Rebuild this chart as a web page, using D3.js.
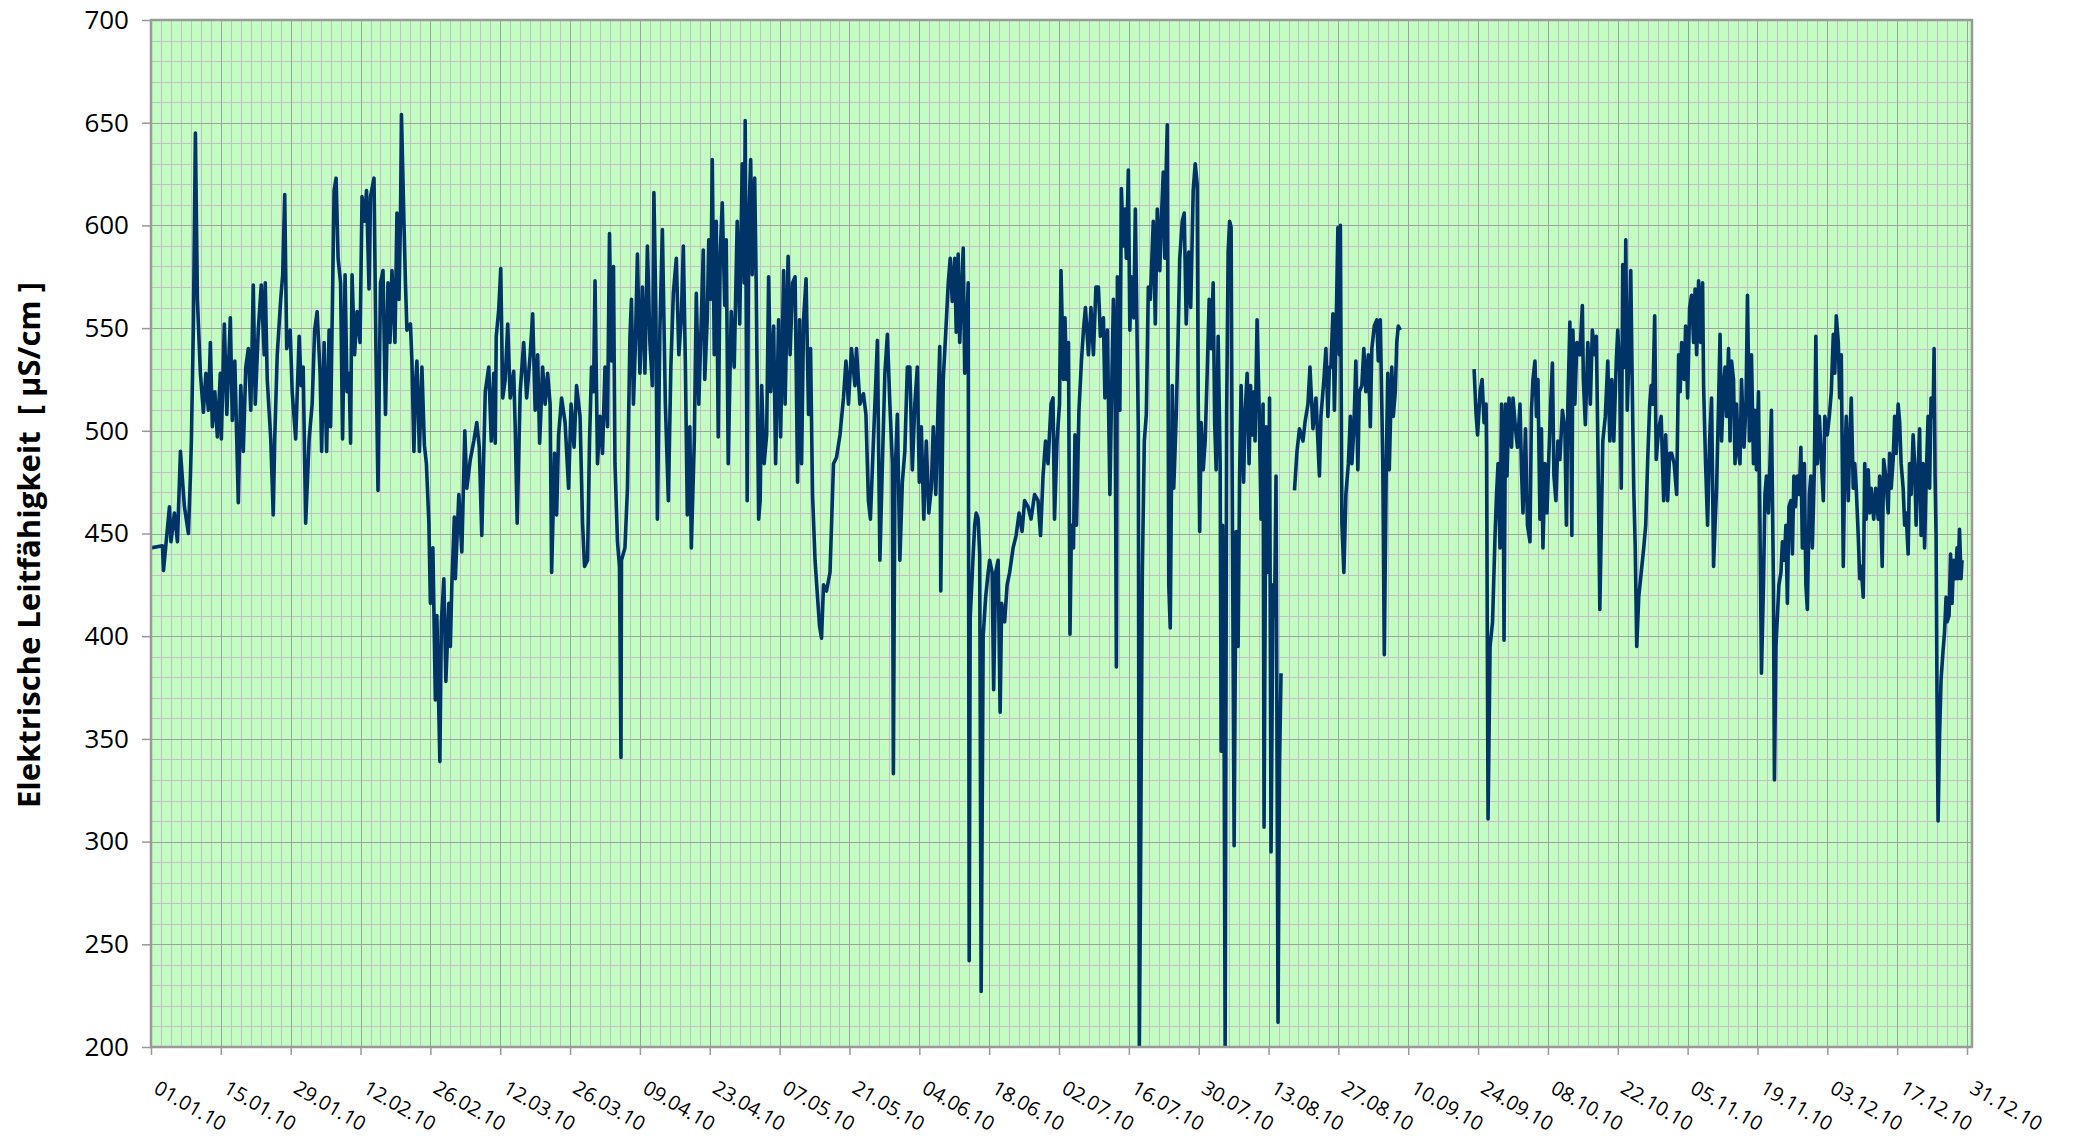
<!DOCTYPE html>
<html>
<head>
<meta charset="utf-8">
<script src="https://cdn.jsdelivr.net/npm/d3@7"></script>
<style>
body{margin:0;background:#fff;}
text{font-family:"Open Sans",sans-serif;fill:#000;}
</style>
</head>
<body>
<div id="chart"></div>
<script>
// x tick labels (every 14 days) and y ticks
const xTickLabels=["01.01.10","15.01.10","29.01.10","12.02.10","26.02.10","12.03.10","26.03.10","09.04.10","23.04.10","07.05.10","21.05.10","04.06.10","18.06.10","02.07.10","16.07.10","30.07.10","13.08.10","27.08.10","10.09.10","24.09.10","08.10.10","22.10.10","05.11.10","19.11.10","03.12.10","17.12.10","31.12.10"];
const yTicks=[200,250,300,350,400,450,500,550,600,650,700];
const yTitle="Elektrische Leitfähigkeit  [ µS/cm ]";

// readings: [days since 01.01.2010, conductivity µS/cm]
const measJanFeb=[[0,443],[2.3,444],[2.5,432],[3.7,463],[4.0,446],[4.7,460],[5.3,446],[5.9,490],[6.7,463],[7.5,450],[7.9,478],[8.1,496],[8.5,552],[8.9,645],[9.3,564],[9.9,528],[10.5,509],[11.0,528],[11.5,510],[11.9,543],[12.3,502],[12.8,519],[13.3,497],[13.9,528],[14.1,496],[14.7,552],[15.2,508],[15.9,555],[16.3,505],[16.8,534],[17.5,465],[18.0,522],[18.5,490],[19.0,531],[19.5,540],[20.0,510],[20.5,571],[20.9,513],[21.5,549],[22.1,571],[22.7,537],[22.9,572],[23.3,525],[24.0,496],[24.5,459],[24.8,496],[25.3,537],[26.0,564],[26.4,576],[26.8,615],[27.2,540],[27.9,549],[28.3,519],[29.0,496],[29.7,546],[30.1,522],[30.5,531],[31.0,455],[31.7,496],[32.3,513],[32.8,549],[33.3,558],[33.9,528],[34.2,490],[34.7,543],[35.2,490],[35.7,549],[36.0,502],[36.7,617],[37.1,623],[37.5,584],[38.0,572],[38.4,496],[38.9,576],[39.3,519],[39.7,528],[40.0,494],[40.3,576],[40.8,537],[41.3,558],[41.9,543],[42.3,614],[42.8,602],[43.2,617],[43.7,569],[44.0,614],[44.7,623],[45.1,537],[45.5,471],[46.0,572],[46.5,578],[47.0,508],[47.5,572],[47.9,543],[48.3,578],[48.9,543],[49.3,606],[49.7,564],[50.0,602],[50.2,654],[50.7,602],[51.0,572],[51.3,549],[52.0,552],[52.3,534],[52.7,490],[53.0,522],[53.3,534],[53.8,490],[54.3,531],[54.8,493],[55.2,484],[55.7,455],[56.0,416],[56.5,443],[57.0,369],[57.3,410],[57.9,339],[58.2,407],[58.7,428],[59.1,378],[59.7,416],[60.0,395],[60.3,425],[60.8,458]];
const measMarApr=[[61.0,428],[61.7,469],[62.3,441],[62.9,500],[63.3,472],[64.0,486],[64.7,495],[65.3,504],[65.8,492],[66.3,449],[67.0,519],[67.7,531],[68.2,495],[68.7,528],[69.0,494],[69.2,546],[69.7,559],[70.1,579],[70.5,516],[71.0,525],[71.5,552],[72.0,516],[72.7,529],[73.0,502],[73.4,455],[74.0,519],[74.7,543],[75.3,516],[76.0,537],[76.5,557],[77.0,510],[77.5,537],[77.9,494],[78.5,531],[79.0,513],[79.5,528],[80.0,513],[80.3,431],[80.9,489],[81.3,459],[81.7,498],[82.3,516],[83.0,504],[83.7,472],[84.2,513],[84.8,492],[85.3,522],[86.0,507],[86.5,455],[86.9,434],[87.5,437],[87.9,495],[88.3,531],[88.7,519],[89.0,573],[89.5,484],[90.0,507],[90.5,489],[91.0,531],[91.5,502],[91.9,596],[92.3,534],[92.7,580],[93.0,484],[93.5,446],[93.9,434],[94.2,341],[94.3,437],[95.0,443],[95.5,472],[96.0,546],[96.3,564],[96.7,513],[97.1,543],[97.5,586],[98.0,528],[98.5,570],[99.0,528],[99.5,590],[100.0,543],[100.5,522],[100.8,616],[101.2,558],[101.5,457],[102.0,549],[102.5,598],[103.1,513],[103.7,466],[104.2,531],[104.7,567],[105.3,584],[105.8,537],[106.3,555],[106.7,590],[107.1,534],[107.5,459],[108.0,502],[108.3,443],[108.9,495],[109.3,567],[109.8,513],[110.2,546],[110.7,588],[111.0,525],[111.5,555],[111.8,593],[112.2,564],[112.5,632],[112.9,537],[113.3,602],[113.7,497],[114.1,587],[114.5,611],[115.0,561],[115.3,593],[115.7,484],[116.3,558],[116.9,531],[117.5,602],[118.0,552],[118.5,630],[118.9,572],[119.1,651],[119.5,466],[119.8,602],[120.2,632],[120.5,576],[121.0,623],[121.3,572],[121.8,457]];
const measMayJun=[[122.1,466],[122.4,522],[122.9,484],[123.4,498],[123.8,575],[124.2,519],[124.8,551],[125.2,484],[125.8,554],[126.2,497],[126.8,578],[127.1,513],[127.7,585],[128.1,537],[128.6,572],[129.1,575],[129.6,475],[130.0,554],[130.4,484],[130.8,554],[131.3,574],[131.8,508],[132.2,540],[132.6,469],[133.1,437],[133.6,419],[134.0,405],[134.4,399],[134.8,425],[135.4,422],[136.1,431],[136.8,484],[137.4,487],[138.1,498],[138.8,516],[139.3,534],[139.8,513],[140.4,540],[141.1,522],[141.4,540],[142.1,513],[142.8,518],[143.3,508],[143.8,466],[144.2,457],[144.8,495],[145.2,519],[145.6,544],[146.1,437],[146.6,484],[147.1,528],[147.6,547],[148.1,513],[148.6,484],[148.8,333],[149.1,475],[149.6,508],[150.1,437],[150.6,475],[151.1,490],[151.6,531],[152.1,531],[152.6,481],[153.1,513],[153.6,531],[154.0,475],[154.4,502],[154.9,457],[155.4,495],[155.9,460],[156.4,472],[156.8,502],[157.3,469],[157.8,516],[158.1,541],[158.3,422],[158.8,525],[159.3,548],[159.8,572],[160.2,584],[160.6,563],[161.1,584],[161.4,548],[161.8,586],[162.1,543],[162.4,563],[162.8,589],[163.1,528],[163.4,543],[163.8,572],[164.0,242],[164.2,409],[164.8,440],[165.1,454],[165.4,460],[165.8,457],[166.1,440],[166.4,227],[166.8,400],[167.3,419],[167.8,431],[168.1,437],[168.6,431],[168.9,374],[169.3,431],[169.8,437],[170.2,363],[170.5,416],[171.1,407],[171.6,425],[172.1,431],[172.8,443],[173.4,449],[174.0,460],[174.6,451],[175.1,466],[175.8,463],[176.4,457],[177.1,469],[177.8,466],[178.3,449],[178.8,478],[179.3,495],[179.8,484],[180.4,513],[180.8,516],[181.1,457],[181.6,495],[182.1,513],[182.4,578],[182.9,525]];
const measJulAug=[[183.2,555],[183.5,525],[183.9,543],[184.2,401],[184.5,454],[184.9,443],[185.2,498],[185.5,454],[186.0,510],[186.5,534],[186.9,549],[187.3,560],[187.9,537],[188.4,560],[188.9,537],[189.4,570],[189.9,570],[190.3,546],[190.9,555],[191.2,516],[191.7,549],[192.2,469],[192.5,513],[192.9,564],[193.2,543],[193.5,385],[193.7,575],[194.2,510],[194.5,618],[194.9,590],[195.2,608],[195.5,584],[195.9,627],[196.2,549],[196.5,575],[197.0,555],[197.3,608],[197.7,537],[197.9,500],[198.1,200],[198.3,266],[198.7,431],[199.1,495],[199.5,508],[199.9,570],[200.3,564],[200.9,602],[201.3,552],[201.7,608],[202.2,578],[202.5,602],[202.9,626],[203.2,584],[203.5,629],[203.7,649],[204.0,425],[204.3,404],[204.7,522],[205.0,472],[205.5,508],[205.9,549],[206.2,584],[206.7,602],[207.1,606],[207.5,552],[208.0,587],[208.4,560],[208.9,617],[209.3,630],[209.7,620],[209.9,516],[210.2,451],[210.5,504],[210.9,481],[211.3,495],[211.7,528],[212.1,564],[212.5,540],[212.9,572],[213.2,504],[213.5,481],[213.9,546],[214.3,484],[214.5,344],[214.8,454],[215.1,348],[215.3,200],[215.6,508],[215.9,587],[216.2,602],[216.5,599],[216.7,484],[217.1,298],[217.5,451],[217.9,395],[218.2,478],[218.5,522],[219.0,475],[219.3,508],[219.7,528],[220.1,484],[220.4,522],[220.7,498],[221.1,519],[221.3,495],[221.7,554],[222.1,513],[222.5,457],[222.9,513],[223.1,307],[223.5,502],[223.9,431],[224.2,516],[224.5,295],[224.9,425],[225.2,410],[225.5,478],[225.9,212],[226.2,337],[226.5,382]];
const measAugSep=[[229.2,471],[229.7,490],[230.2,501],[230.9,495],[231.3,504],[231.9,513],[232.3,531],[232.9,501],[233.5,516],[234.2,478],[234.5,507],[235.1,525],[235.5,540],[235.9,507],[236.2,531],[236.5,531],[236.9,557],[237.2,510],[237.5,543],[237.9,599],[238.2,537],[238.4,600],[238.7,455],[239.1,431],[239.5,469],[240.0,484],[240.4,507],[240.7,484],[241.1,501],[241.5,534],[241.9,481],[242.2,519],[242.7,522],[243.1,540],[243.5,519],[244.0,537],[244.4,502],[244.7,540],[245.2,551],[245.7,554],[246.0,534],[246.4,554],[246.7,513],[246.9,484],[247.2,391],[247.6,484],[247.9,528],[248.2,481],[248.7,531],[249.0,507],[249.4,519],[249.7,543],[250.0,551],[250.4,549]];
const measSepOct=[[265.2,530],[265.6,508],[265.9,498],[266.4,519],[266.8,525],[267.2,504],[267.6,513],[267.7,490],[268.0,311],[268.4,395],[268.9,407],[269.4,449],[269.7,469],[270.0,484],[270.4,443],[270.7,513],[271.0,495],[271.2,398],[271.5,513],[271.8,478],[272.2,516],[272.7,492],[273.0,516],[273.5,501],[273.9,492],[274.4,513],[274.7,481],[275.0,460],[275.5,501],[275.9,454],[276.4,446],[276.7,510],[277.0,525],[277.4,534],[277.7,507],[278.0,525],[278.4,457],[278.7,501],[279.0,443],[279.4,484],[279.8,460],[280.2,489],[280.6,516],[280.9,533],[281.2,478],[281.6,466],[282.0,495],[282.4,486],[282.9,510],[283.4,501],[283.7,454],[284.0,513],[284.4,553],[284.8,449],[285.0,549],[285.4,513],[285.8,543],[286.4,537],[286.9,561],[287.1,525],[287.5,503],[288.0,543],[288.5,513],[288.9,549],[289.4,537],[289.7,546],[290.0,495],[290.4,413],[290.7,454],[291.0,495],[291.5,507],[292.0,534],[292.4,495],[292.8,525],[293.2,495],[293.7,534],[294.0,549],[294.4,528],[294.7,472],[295.0,581],[295.4,531],[295.6,593],[295.9,510],[296.2,534],[296.6,578],[296.9,522],[297.2,472],[297.5,443],[297.8,395],[298.2,419],[298.7,431],[299.2,443],[299.6,454],[300.0,486],[300.4,513],[300.7,522],[301.0,513],[301.4,556],[301.7,486],[302.2,501],[302.7,507],[303.2,466],[303.6,498],[304.0,466],[304.4,489]];
const measNovDec=[[304.8,489],[305.3,484],[305.8,469],[306.2,537],[306.5,519],[306.8,543],[307.3,525],[307.6,551],[308.0,516],[308.4,560],[308.8,566],[309.2,543],[309.5,569],[309.8,537],[310.2,573],[310.6,543],[311.0,572],[311.2,522],[311.6,484],[312.0,454],[312.4,495],[312.8,516],[313.2,434],[313.5,454],[313.8,472],[314.2,513],[314.5,547],[314.8,495],[315.2,522],[315.5,531],[315.8,507],[316.2,540],[316.5,495],[316.8,534],[317.2,525],[317.5,484],[317.8,513],[318.2,489],[318.5,484],[318.8,525],[319.3,492],[319.7,513],[320.0,566],[320.4,495],[320.8,537],[321.2,484],[321.5,510],[321.8,481],[322.2,519],[322.5,454],[322.8,382],[323.2,425],[323.5,469],[323.8,478],[324.2,460],[324.5,484],[324.8,510],[325.2,425],[325.4,330],[325.7,395],[326.0,410],[326.3,425],[326.7,431],[327.0,446],[327.4,437],[327.7,454],[328.0,416],[328.3,463],[328.7,466],[329.0,440],[329.3,478],[329.6,463],[330.0,478],[330.4,469],[330.7,492],[331.0,443],[331.4,484],[331.7,425],[332.0,413],[332.4,469],[332.7,478],[333.0,443],[333.4,481],[333.7,546],[334.0,484],[334.4,507],[334.8,486],[335.2,466],[335.5,507],[336.0,498],[336.4,507],[336.8,519],[337.2,547],[337.5,528],[337.8,556],[338.2,543],[338.5,516],[338.8,537],[339.2,434],[339.5,484],[339.8,507],[340.2,466],[340.5,495],[340.8,516],[341.2,472],[341.5,484],[341.8,472],[342.2,449],[342.5,428],[342.8,434],[343.2,419],[343.5,484],[343.8,457],[344.2,481],[344.5,460],[344.8,472],[345.3,457],[345.7,472],[346.2,457],[346.5,478],[347.0,434],[347.3,486],[347.7,478],[348.2,460],[348.5,489],[348.8,472],[349.2,486],[349.5,507],[349.8,489],[350.2,513],[350.5,504],[350.8,484],[351.2,472],[351.5,454],[351.8,460],[352.2,440],[352.5,484],[352.8,469],[353.2,498],[353.5,484],[353.8,454],[354.2,481],[354.5,501],[354.8,449],[355.2,484],[355.5,443],[355.8,475],[356.2,507],[356.5,472],[356.8,516],[357.2,507],[357.4,540],[357.6,478],[357.8,449],[358.0,367],[358.2,310],[358.5,352],[358.8,379],[359.2,393],[359.5,402],[359.8,419],[360.0,407],[360.4,410],[360.7,440],[361.0,416],[361.3,437],[361.7,428],[362.0,443],[362.2,428],[362.5,452],[362.8,428],[363.0,437]];

// data gaps split the line in three pieces
const segments=[measJanFeb.concat(measMarApr,measMayJun,measJulAug),measAugSep,measSepOct.concat(measNovDec)];

const W=2076,H=1138;
const plotL=151,plotR=1972,plotT=20,plotB=1047;
const t0=Date.UTC(2010,0,1);
const DAY=864e5;
const toDate=d=>new Date(t0+d*DAY);

const xScale=d3.scaleUtc().domain([new Date(t0),new Date(Date.UTC(2011,0,1))]).range([plotL,plotR]);
const yScale=d3.scaleLinear().domain([200,700]).range([plotB,plotT]);
const px=v=>Math.round(v)+0.5;

const svg=d3.select("#chart").append("svg").attr("width",W).attr("height",H);

svg.append("defs").append("clipPath").attr("id","plot-clip")
   .append("rect").attr("x",plotL).attr("y",plotT).attr("width",plotR-plotL).attr("height",plotB-plotT);

svg.append("rect")
   .attr("x",plotL).attr("y",plotT)
   .attr("width",plotR-plotL).attr("height",plotB-plotT)
   .attr("fill","#c2fec2");

const grid=svg.append("g").attr("shape-rendering","crispEdges");
// minor grid: every 2 days, every 10 µS/cm
grid.selectAll("line.vmin").data(d3.range(2,365,2)).enter().append("line")
    .attr("x1",d=>px(xScale(toDate(d)))).attr("x2",d=>px(xScale(toDate(d))))
    .attr("y1",plotT).attr("y2",plotB)
    .attr("stroke","#c9bcc9").attr("stroke-width",1);
grid.selectAll("line.hmin").data(d3.range(210,700,10)).enter().append("line")
    .attr("x1",plotL).attr("x2",plotR)
    .attr("y1",d=>px(yScale(d))).attr("y2",d=>px(yScale(d)))
    .attr("stroke","#c9bcc9").attr("stroke-width",1);
// major grid: every 14 days, every 50 µS/cm
grid.selectAll("line.vmaj").data(d3.range(14,365,14)).enter().append("line")
    .attr("x1",d=>px(xScale(toDate(d)))).attr("x2",d=>px(xScale(toDate(d))))
    .attr("y1",plotT).attr("y2",plotB)
    .attr("stroke","#a0a0a0").attr("stroke-width",1);
grid.selectAll("line.hmaj").data(yTicks.slice(1,-1)).enter().append("line")
    .attr("x1",plotL).attr("x2",plotR)
    .attr("y1",d=>px(yScale(d))).attr("y2",d=>px(yScale(d)))
    .attr("stroke","#a0a0a0").attr("stroke-width",1);

const line=d3.line()
   .x(d=>xScale(toDate(d[0])))
   .y(d=>yScale(d[1]));

svg.append("g").attr("clip-path","url(#plot-clip)")
   .selectAll("path").data(segments).enter().append("path")
   .attr("d",line)
   .attr("fill","none")
   .attr("stroke","#003366")
   .attr("stroke-width",3.6)
   .attr("stroke-linejoin","round");

// frame
svg.append("rect")
   .attr("x",plotL).attr("y",plotT)
   .attr("width",plotR-plotL).attr("height",plotB-plotT)
   .attr("fill","none").attr("stroke","#999").attr("stroke-width",2.5);

// axes
const xAxis=d3.axisBottom(xScale)
   .tickValues(xTickLabels.map((l,i)=>toDate(i*14)))
   .tickFormat((d,i)=>xTickLabels[i])
   .tickSize(8);
const gx=svg.append("g").attr("transform",`translate(0,${plotB})`).call(xAxis);
gx.select(".domain").remove();
gx.selectAll(".tick line").attr("stroke","#999").attr("stroke-width",1.5);
gx.selectAll(".tick text")
  .attr("x",0).attr("y",0).attr("dy",null)
  .attr("text-anchor","start")
  .attr("transform","translate(1,45) rotate(30)")
  .style("font-size","20px")
  .style("font-family","'Open Sans',sans-serif");

const yAxis=d3.axisLeft(yScale).tickValues(yTicks).tickSize(9).tickPadding(13);
const gy=svg.append("g").attr("transform",`translate(${plotL},0)`).call(yAxis);
gy.select(".domain").remove();
gy.selectAll(".tick line").attr("stroke","#999").attr("stroke-width",1.5);
gy.selectAll(".tick text")
  .style("font-size","26px")
  .style("font-family","'Open Sans',sans-serif");

svg.append("text")
   .attr("transform","translate(40,545) rotate(-90)")
   .attr("text-anchor","middle")
   .style("font-size","31px")
   .style("font-weight","bold")
   .style("white-space","pre")
   .text(yTitle);
</script>
</body>
</html>
